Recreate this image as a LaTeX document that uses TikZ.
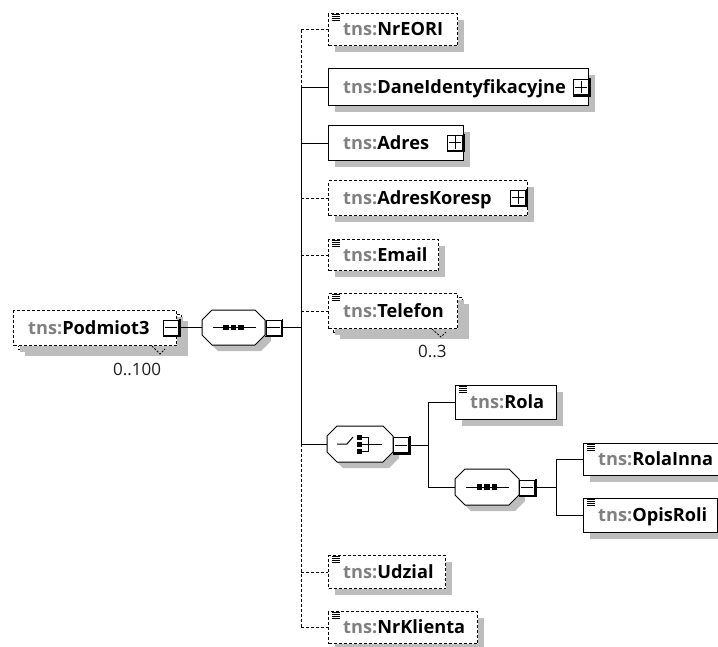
\documentclass[tikz,border=0pt]{standalone}
\usepackage{fontspec}
\setmainfont{Open Sans}
\usetikzlibrary{shadows}
\definecolor{shadowc}{HTML}{BDBDBD}
\definecolor{prefixc}{HTML}{808080}
\definecolor{occc}{HTML}{202020}
\tikzset{
  opt/.style={dash pattern=on 3pt off 2pt},
  shd/.style={drop shadow={shadow xshift=6pt,shadow yshift=-6pt,fill=shadowc,opacity=1}},
  ebox/.style={rectangle,draw=black,line width=1pt,fill=white,inner sep=0pt},
  lbl/.style={inner sep=0pt,anchor=west,font=\bfseries\fontsize{18.2}{22}\selectfont,
              text height=15pt,text depth=3pt},
  compbox/.style={rectangle,inner sep=0pt},
  xbox/.style={rectangle,draw=black,line width=0.9pt,fill=white,minimum size=15pt,inner sep=0pt},
  occ/.style={inner sep=0pt,anchor=base west,text=occc,font=\fontsize{17}{20}\selectfont},
  wire/.style={line width=1pt,draw=black},
}
% element box: name, x1, y1, x2, y2, border style, label
\newcommand\elem[7]{%
  \node[ebox,shd,#6,anchor=north west,minimum width={#4-#2},minimum height={#5-#3}] (#1) at (#2,#3) {};
  \node[lbl] (#1-l) at ([xshift=15pt]#1.west) {\textcolor{prefixc}{tns:}#7};
}
% compositor: name, centre x, centre y, width, height (octagon with 10pt corners)
\newcommand\octpath[5]{%
  ({#1+#3/2-10},{#2-#4/2}) -- ({#1+#3/2},{#2-#4/2+10}) -- ({#1+#3/2},{#2+#4/2-10})
  -- ({#1+#3/2-10},{#2+#4/2}) -- ({#1-#3/2+10},{#2+#4/2}) -- ({#1-#3/2},{#2+#4/2-10})
  -- ({#1-#3/2},{#2-#4/2+10}) -- ({#1-#3/2+10},{#2-#4/2}) -- cycle}
\newcommand\compositor[5]{%
  \node[compbox,minimum width=#4,minimum height=#5] (#1) at (#2,#3) {};
  \fill[shadowc] \octpath{#2+6}{#3+6}{#4}{#5}{};
  \draw[line width=1pt,fill=white] \octpath{#2}{#3}{#4}{#5}{};
}
% simple-type mark in the upper left corner
\newcommand\typemark[1]{%
  \foreach \d in {1.6,3.4,5.2,7.0}
    \draw[line width=0.85pt] ([xshift=3.5pt,yshift=-\d pt]#1.north west) -- ++(8pt,0);
}
% expand / collapse box: name, x, y, plus|minus
\newcommand\xpand[4]{%
  \node[xbox] (#1) at (#2,#3) {};
  \draw[line width=1.5pt] ([xshift=1.1pt,yshift=1pt]#1.north east) -- ([xshift=1.1pt,yshift=-1.1pt]#1.south east)
        -- ([xshift=-0.5pt,yshift=-1.1pt]#1.south west);
  \draw[line width=0.9pt] ([xshift=1.5pt]#1.west) -- ([xshift=-1.5pt]#1.east);
  \ifx#4p\draw[line width=0.9pt] ([yshift=-1.5pt]#1.north) -- ([yshift=1.5pt]#1.south);\fi
}
% sequence mark inside a compositor
\newcommand\seqmark[1]{%
  \draw[line width=1pt] ([xshift=-21pt]#1.center) -- ([xshift=22pt]#1.center);
  \foreach \dx in {-7.5,0,7.5}
    \fill ([xshift=\dx pt]#1.center) +(-2.6pt,-2.6pt) rectangle +(2.6pt,2.6pt);
}
\begin{document}
\begin{tikzpicture}[x=1pt,y=-1pt]
\useasboundingbox (0,0) rectangle (718,646);
\coordinate (spx) at (301,0);
\coordinate (spy) at (428,0);
\coordinate (spz) at (556,0);

% root element (repeated)
\node[ebox,shd,opt,anchor=north west,minimum width=163,minimum height=35] (p3back) at (18,314) {};
\elem{p3}{13}{310}{176}{345}{opt}{Podmiot3}
\xpand{p3x}{171}{327.5}{m}
\draw[line width=0.8pt,dash pattern=on 2pt off 1.5pt] (152,346) -- (160,354) -- (165,349);
\node[occ] (p3occ) at (113,375) {0..100};

% top sequence
\compositor{seq1}{233.5}{327.5}{63}{35}
\seqmark{seq1}
\xpand{seq1x}{273.5}{327.5}{m}

% children of the sequence
\elem{nreori}{328}{13}{457}{45}{opt}{NrEORI}
\typemark{nreori}
\elem{daneid}{328}{68}{588}{105}{solid}{DaneIdentyfikacyjne}
\xpand{daneidx}{581}{87}{p}
\elem{adres}{328}{125}{463}{160}{solid}{Adres}
\xpand{adresx}{455}{142.5}{p}
\elem{adrk}{328}{180}{527}{215}{opt}{AdresKoresp}
\xpand{adrkx}{518}{197.5}{p}
\elem{email}{328}{239}{438}{270}{opt}{Email}
\typemark{email}
\node[ebox,shd,opt,anchor=north west,minimum width=129,minimum height=35] (telback) at (333,297) {};
\elem{tel}{328}{293}{457}{328}{opt}{Telefon}
\typemark{tel}
\draw[line width=0.8pt,dash pattern=on 2pt off 1.5pt] (432,329) -- (441,337) -- (446,332);
\node[occ] (telocc) at (418,357) {0..3};

% choice
\compositor{ch}{360}{444}{66}{36}
\draw[line width=1pt] ([xshift=-23pt]ch.center) -- ([xshift=-13pt]ch.center) -- ([xshift=-7pt,yshift=7pt]ch.center);
\foreach \dy in {6.5,-0.5,-7.5}
  \fill ([yshift=\dy pt]ch.center) +(-3pt,-2.6pt) rectangle +(2pt,2.6pt);
\draw[line width=1pt] ([xshift=2pt,yshift=6.5pt]ch.center) -- ([xshift=8pt,yshift=6.5pt]ch.center)
      -- ([xshift=8pt,yshift=-7.5pt]ch.center) -- ([xshift=2pt,yshift=-7.5pt]ch.center);
\draw[line width=1pt] ([xshift=2pt,yshift=-0.5pt]ch.center) -- ([xshift=22pt,yshift=-0.5pt]ch.center);
\xpand{chx}{401}{445}{m}

\elem{rola}{455}{385}{556}{419}{solid}{Rola}
\typemark{rola}

\compositor{seq2}{487}{487}{64}{36}
\seqmark{seq2}
\xpand{seq2x}{527}{487.5}{m}

\elem{rinna}{583}{443}{722}{475}{solid}{RolaInna}
\typemark{rinna}
\elem{opis}{583}{498}{717}{532}{solid}{OpisRoli}
\typemark{opis}

\elem{udz}{328}{555}{445}{588}{opt}{Udzial}
\typemark{udz}
\elem{nrk}{328}{611}{477}{643}{opt}{NrKlienta}
\typemark{nrk}

% connectors
\draw[wire] (p3x.east) -- (seq1.west);
\draw[wire] (seq1x.east) -- (seq1x.east -| spx);
\draw[wire,opt] (nreori.west -| spx) -- (daneid.west -| spx);
\draw[wire] (daneid.west -| spx) -- (ch.west -| spx);
\draw[wire,opt] (ch.west -| spx) -- (nrk.west -| spx);
\draw[wire,opt] (nreori.west -| spx) -- (nreori.west);
\draw[wire] (daneid.west -| spx) -- (daneid.west);
\draw[wire] (adres.west -| spx) -- (adres.west);
\draw[wire,opt] (adrk.west -| spx) -- (adrk.west);
\draw[wire,opt] (email.west -| spx) -- (email.west);
\draw[wire,opt] (tel.west -| spx) -- (tel.west);
\draw[wire] (ch.west -| spx) -- (ch.west);
\draw[wire,opt] (udz.west -| spx) -- (udz.west);
\draw[wire,opt] (nrk.west -| spx) -- (nrk.west);

\draw[wire] (chx.east) -- (chx.east -| spy);
\draw[wire] (rola.west -| spy) -- (seq2.west -| spy);
\draw[wire] (rola.west -| spy) -- (rola.west);
\draw[wire] (seq2.west -| spy) -- (seq2.west);

\draw[wire] (seq2x.east) -- (seq2x.east -| spz);
\draw[wire] (rinna.west -| spz) -- (opis.west -| spz);
\draw[wire] (rinna.west -| spz) -- (rinna.west);
\draw[wire] (opis.west -| spz) -- (opis.west);
\end{tikzpicture}
\end{document}
